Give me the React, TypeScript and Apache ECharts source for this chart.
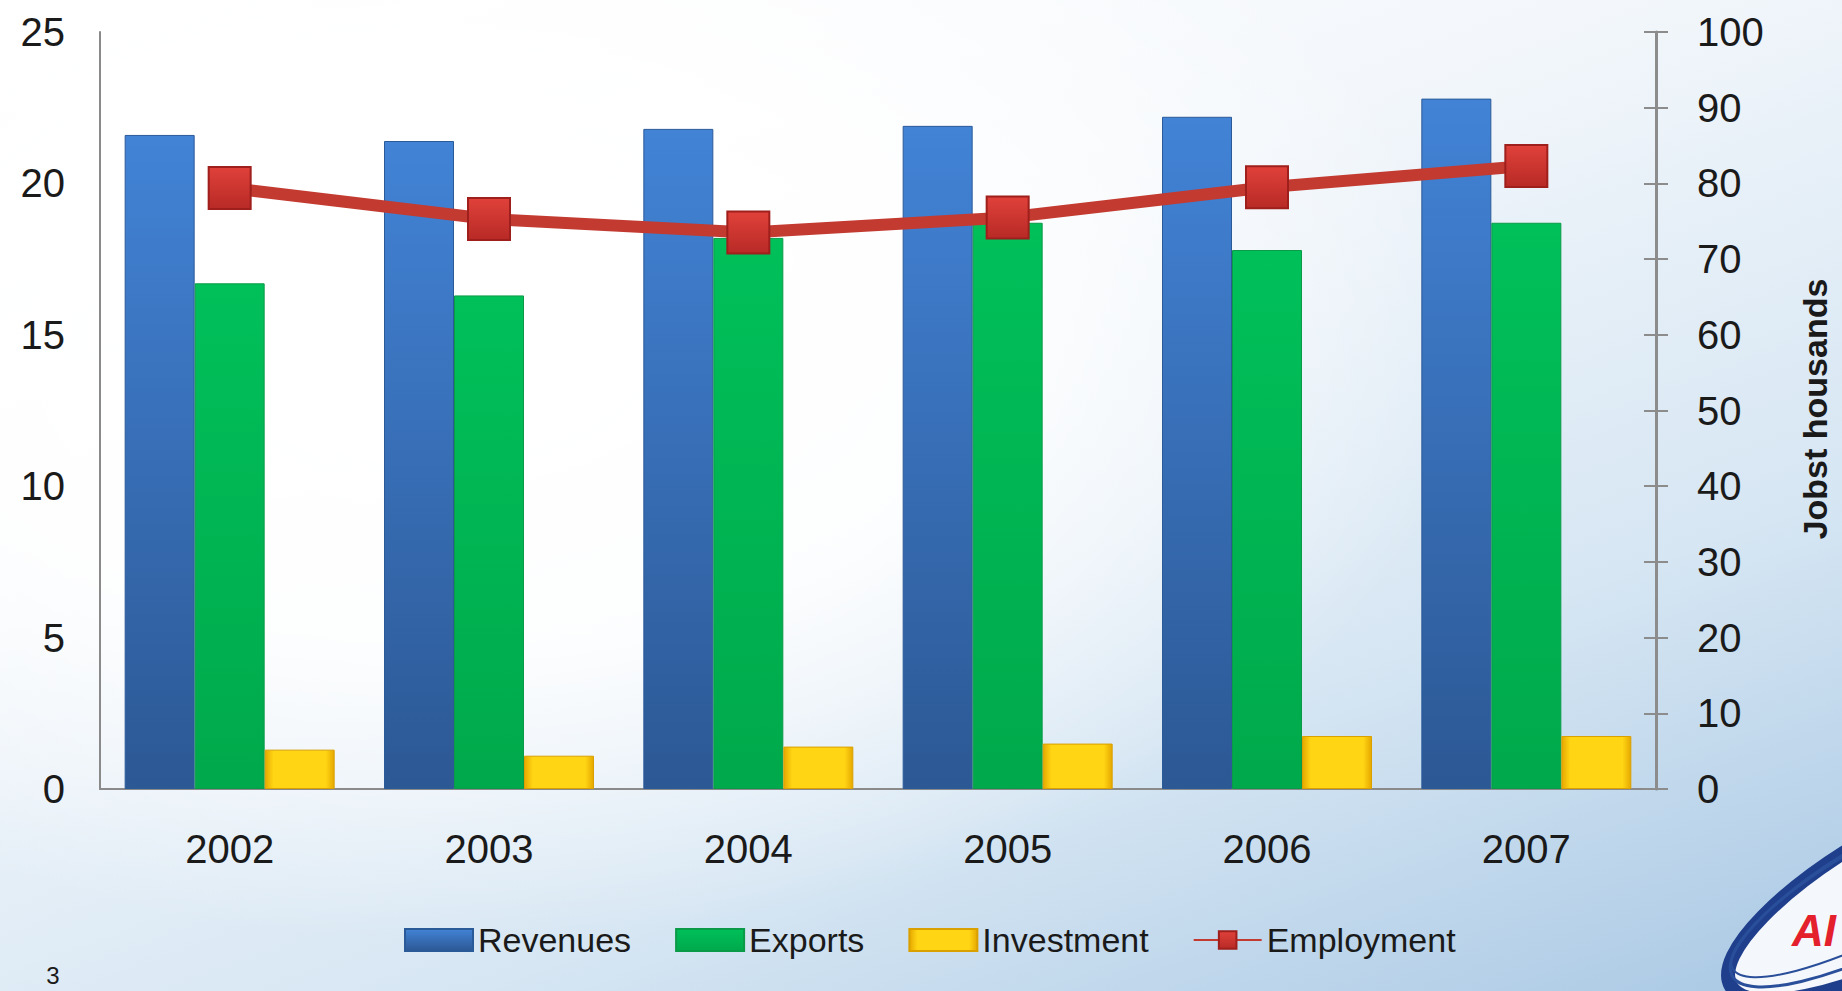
import React, { useEffect, useRef } from "react";
import * as echarts from "echarts";

const categories = ["2002", "2003", "2004", "2005", "2006", "2007"];
const revenues = [21.6, 21.4, 21.8, 21.9, 22.2, 22.8];
const exportsData = [16.7, 16.3, 18.2, 18.7, 17.8, 18.7];
const investment = [1.3, 1.1, 1.4, 1.5, 1.75, 1.75];
const employment = [79.4, 75.3, 73.5, 75.5, 79.5, 82.3];
const leftTicks = { min: 0, max: 25, interval: 5 };
const rightTicks = { min: 0, max: 100, interval: 10 };
const rightAxisName = "Jobst housands";
const pageNumber = "3";

const FONT = "'Liberation Sans', Arial, Helvetica, sans-serif";

function vgrad(top: string, bottom: string) {
  return new echarts.graphic.LinearGradient(0, 0, 0, 1, [
    { offset: 0, color: top },
    { offset: 1, color: bottom },
  ]);
}
function hgrad(edge: string, mid: string) {
  return new echarts.graphic.LinearGradient(0, 0, 1, 0, [
    { offset: 0, color: edge },
    { offset: 0.12, color: mid },
    { offset: 0.88, color: mid },
    { offset: 1, color: edge },
  ]);
}

export default function App() {
  const ref = useRef<HTMLDivElement>(null);
  useEffect(() => {
    if (!ref.current) return;
    const chart = echarts.init(ref.current, null, { renderer: "svg" });
    const option: any = {
      animation: false,
      backgroundColor: "transparent",
      textStyle: { fontFamily: FONT },
      grid: { left: 100, right: 186, top: 32, bottom: 202, containLabel: false },
      legend: {
        left: 399,
        top: 918,
        itemWidth: 68,
        itemHeight: 22,
        itemGap: 44,
        textStyle: { fontSize: 34, color: "#1a1a1a", fontFamily: FONT },
        data: [
          { name: "Revenues", icon: "rect" },
          { name: "Exports", icon: "rect" },
          { name: "Investment", icon: "rect" },
          { name: "Employment" },
        ],
      },
      xAxis: {
        type: "category",
        data: categories,
        axisLine: { show: true, lineStyle: { color: "#8a8a8a", width: 2 } },
        axisTick: { show: false },
        axisLabel: { fontSize: 40, color: "#1a1a1a", margin: 40, fontFamily: FONT },
        splitLine: { show: false },
      },
      yAxis: [
        {
          type: "value",
          position: "left",
          min: leftTicks.min,
          max: leftTicks.max,
          interval: leftTicks.interval,
          axisLine: { show: true, lineStyle: { color: "#8a8a8a", width: 2 } },
          axisTick: { show: false },
          axisLabel: { fontSize: 40, color: "#1a1a1a", margin: 35, fontFamily: FONT },
          splitLine: { show: false },
        },
        {
          type: "value",
          position: "right",
          min: rightTicks.min,
          max: rightTicks.max,
          interval: rightTicks.interval,
          axisLine: { show: true, lineStyle: { color: "#8c8c8c", width: 3 } },
          axisTick: { show: true, inside: false, length: 12, lineStyle: { color: "#8c8c8c", width: 2 } },
          axisLabel: { fontSize: 40, color: "#1a1a1a", margin: 41, fontFamily: FONT },
          splitLine: { show: false },
        },
        {
          type: "value",
          position: "right",
          min: rightTicks.min,
          max: rightTicks.max,
          interval: rightTicks.interval,
          axisLine: { show: false },
          axisTick: { show: true, inside: true, length: 12, lineStyle: { color: "#8c8c8c", width: 2 } },
          axisLabel: { show: false },
          splitLine: { show: false },
        },
      ],
      series: [
        {
          name: "Revenues",
          type: "bar",
          yAxisIndex: 0,
          data: revenues,
          barWidth: 70,
          barGap: "0%",
          itemStyle: { color: vgrad("#4283d6", "#2c5894"), borderColor: "#2b5a99", borderWidth: 1 },
        },
        {
          name: "Exports",
          type: "bar",
          yAxisIndex: 0,
          data: exportsData,
          barWidth: 70,
          barGap: "0%",
          itemStyle: { color: vgrad("#00c05a", "#00a94b"), borderColor: "#0a9a48", borderWidth: 1 },
        },
        {
          name: "Investment",
          type: "bar",
          yAxisIndex: 0,
          data: investment,
          barWidth: 70,
          barGap: "0%",
          itemStyle: { color: hgrad("#e6a800", "#ffd514"), borderColor: "#d9a000", borderWidth: 1 },
        },
        {
          name: "Employment",
          type: "line",
          yAxisIndex: 1,
          data: employment,
          symbol: "rect",
          symbolSize: 42,
          z: 5,
          lineStyle: { color: "#c33a30", width: 12 },
          itemStyle: {
            color: vgrad("#e0413a", "#b82a26"),
            borderColor: "#9e1f1c",
            borderWidth: 2,
          },
        },
      ],
      graphic: [
        {
          type: "text",
          x: 1815,
          y: 409,
          rotation: Math.PI / 2,
          style: {
            text: rightAxisName,
            fontSize: 34,
            fontWeight: 600,
            fontFamily: FONT,
            fill: "#1a1a1a",
            align: "center",
            verticalAlign: "middle",
          },
        },
        {
          type: "text",
          x: 53,
          y: 975,
          style: {
            text: pageNumber,
            fontSize: 24,
            fontFamily: FONT,
            fill: "#1a1a1a",
            align: "center",
            verticalAlign: "middle",
          },
        },
        {
          type: "group",
          x: 1915,
          y: 885,
          rotation: 0.5,
          children: [
            { type: "ellipse", shape: { cx: 0, cy: 0, rx: 210, ry: 64 }, style: { fill: "#f4f7fb", stroke: "#1f3f8c", lineWidth: 14 } },
            { type: "ellipse", shape: { cx: -6, cy: -8, rx: 198, ry: 54 }, style: { fill: "none", stroke: "#2a4f9a", lineWidth: 3 } },
            { type: "ellipse", shape: { cx: -12, cy: -14, rx: 188, ry: 46 }, style: { fill: "none", stroke: "#2a4f9a", lineWidth: 2 } },
          ],
        },
        {
          type: "text",
          x: 1792,
          y: 930,
          style: {
            text: "AI",
            fontSize: 44,
            fontWeight: "bold",
            fontStyle: "italic",
            fontFamily: FONT,
            fill: "#e3202c",
            verticalAlign: "middle",
          },
        },
      ],
    };
    chart.setOption(option);
    return () => chart.dispose();
  }, []);
  return (
    <div
      style={{
        position: "absolute",
        left: 0,
        top: 0,
        width: 1842,
        height: 991,
        overflow: "hidden",
        background:
          "radial-gradient(ellipse 55% 60% at 25% 35%, rgba(255,255,255,1) 0%, rgba(255,255,255,0.9) 50%, rgba(255,255,255,0) 100%), linear-gradient(160deg, #ffffff 0%, #f3f7fb 35%, #d6e6f3 70%, #a9c8e4 100%)",
      }}
    >
      <div ref={ref} style={{ width: 1842, height: 991 }} />
    </div>
  );
}
